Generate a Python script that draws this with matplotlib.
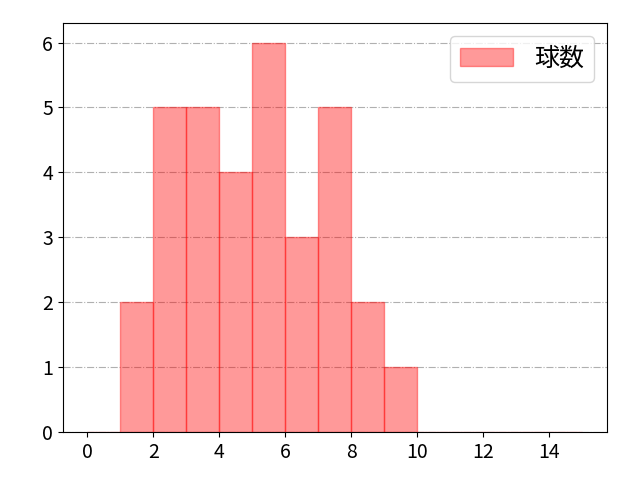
import matplotlib
matplotlib.use("Agg")
import matplotlib.pyplot as plt
import numpy as np

plt.rcParams['font.family'] = ['Noto Sans CJK JP', 'DejaVu Sans']

# --------- data ---------
bin_edges = list(range(0, 16))
counts = [0, 2, 5, 5, 4, 6, 3, 5, 2, 1, 0, 0, 0, 0, 0]
label = "球数"

# --------- plot ---------
fig = plt.figure(figsize=(6.4, 4.8), dpi=100)
ax = fig.add_axes([0.098, 0.1, 0.85, 0.852])
ax.hist(bin_edges[:-1], bins=bin_edges, weights=counts,
        color="red", alpha=0.4, edgecolor="red", label=label)
ax.grid(axis="y", linestyle="-.", color="#b0b0b0")
ax.set_axisbelow(True)
ax.set_xticks(range(0, 16, 2))
ax.tick_params(labelsize=14)
ax.legend(loc="upper right", fontsize=18, handlelength=2.1, handletextpad=0.85)

fig.savefig("out.png")
